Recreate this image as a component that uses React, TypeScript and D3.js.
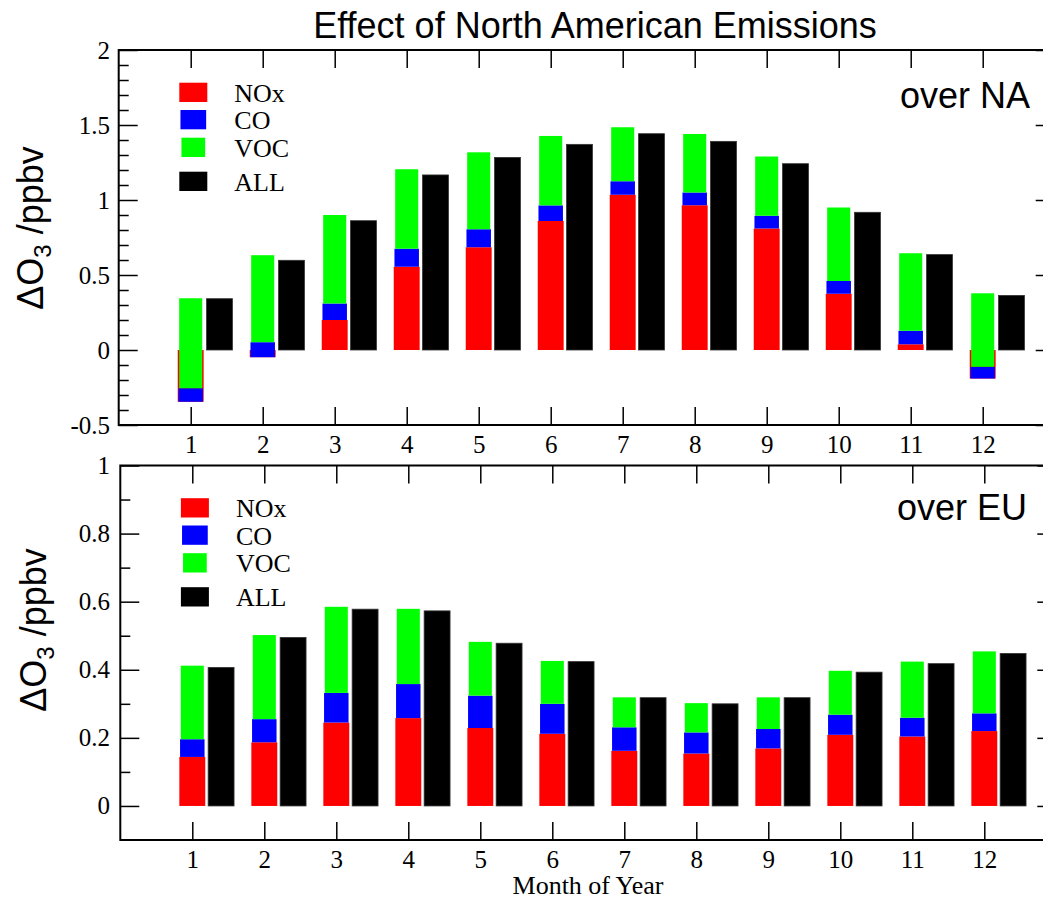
import React, { useEffect, useRef } from "react";
import * as d3 from "d3";

const months = [1, 2, 3, 4, 5, 6, 7, 8, 9, 10, 11, 12];

// over NA, ppbv
const naNOx = [-0.345, -0.048, 0.2, 0.555, 0.685, 0.86, 1.035, 0.965, 0.81, 0.375, 0.038, -0.19];
const naCO = [0.09, 0.1, 0.11, 0.12, 0.12, 0.104, 0.09, 0.085, 0.085, 0.085, 0.09, 0.078];
const naVOC = [0.6, 0.58, 0.59, 0.53, 0.513, 0.463, 0.36, 0.39, 0.395, 0.49, 0.517, 0.49];
const naALL = [0.342, 0.598, 0.862, 1.167, 1.284, 1.371, 1.442, 1.391, 1.242, 0.918, 0.636, 0.364];

// over EU, ppbv
const euNOx = [0.144, 0.187, 0.245, 0.258, 0.229, 0.212, 0.162, 0.154, 0.169, 0.209, 0.204, 0.22];
const euCO = [0.052, 0.068, 0.087, 0.1, 0.095, 0.088, 0.069, 0.062, 0.057, 0.059, 0.055, 0.052];
const euVOC = [0.216, 0.247, 0.253, 0.221, 0.158, 0.126, 0.088, 0.086, 0.093, 0.129, 0.165, 0.182];
const euALL = [0.407, 0.495, 0.578, 0.573, 0.478, 0.424, 0.318, 0.3, 0.318, 0.393, 0.418, 0.448];

const naMajor = [-0.5, 0, 0.5, 1, 1.5, 2];
const euMajor = [0, 0.2, 0.4, 0.6, 0.8, 1];

const legendLabels = ["NOx", "CO", "VOC", "ALL"];
const colors = ["#ff0000", "#0000ff", "#00ff00", "#000000"];

const SERIF = "'Liberation Serif', 'Times New Roman', serif";
const SANS = "'Liberation Sans', Arial, sans-serif";

const panels = [
  {
    region: "over NA",
    nox: naNOx, co: naCO, voc: naVOC, all: naALL,
    x0: 118.7, top: 50, bottom: 425,
    yDomain: [-0.5, 2], majors: naMajor, minorStep: [-0.4, 2],
    titleX: 43, titleY: 228, regionX: 1030, regionY: 108,
  },
  {
    region: "over EU",
    nox: euNOx, co: euCO, voc: euVOC, all: euALL,
    x0: 120.3, top: 465.5, bottom: 840,
    yDomain: [-0.1, 1], majors: euMajor, minorStep: [0.1, 1],
    titleX: 46, titleY: 630, regionX: 1027, regionY: 520,
  },
];

const App = () => {
  const ref = useRef<SVGSVGElement>(null);

  useEffect(() => {
    const svg = d3.select(ref.current);
    svg.selectAll("*").remove();

    svg
      .append("text")
      .attr("x", 595)
      .attr("y", 38)
      .attr("text-anchor", "middle")
      .style("font-family", SANS)
      .style("font-size", "36px")
      .text("Effect of North American Emissions");

    panels.forEach((p) => {
      const x = d3.scaleLinear().domain([0, 13]).range([p.x0, p.x0 + 936]);
      const y = d3.scaleLinear().domain(p.yDomain).range([p.bottom, p.top]);
      const g = svg.append("g");

      const minors = d3
        .range(Math.round(p.minorStep[0] * 10), Math.round(p.minorStep[1] * 10))
        .map((d) => d / 10)
        .filter((d) => !p.majors.some((m) => Math.abs(m - d) < 1e-6));

      // stacked segments: NOx, then CO, then VOC on top
      const segWidths = [0.36, 0.34, 0.32];
      const stacks = months.map((m, i) => {
        const a = p.nox[i];
        const b = a + p.co[i];
        const c = b + p.voc[i];
        return { m, segs: [[0, a], [a, b], [b, c]] };
      });

      [0, 1, 2].forEach((k) => {
        g.selectAll(null)
          .data(stacks)
          .enter()
          .append("rect")
          .attr("x", (d) => x(d.m - segWidths[k] / 2))
          .attr("y", (d) => y(Math.max(d.segs[k][0], d.segs[k][1])))
          .attr("width", x(segWidths[k]) - x(0))
          .attr("height", (d) => Math.abs(y(d.segs[k][0]) - y(d.segs[k][1])))
          .attr("fill", colors[k]);
      });

      g.selectAll(null)
        .data(months)
        .enter()
        .append("rect")
        .attr("x", (m) => x(m + 0.4 - 0.18))
        .attr("y", (m, i) => y(Math.max(0, p.all[i])))
        .attr("width", x(0.36) - x(0))
        .attr("height", (m, i) => Math.abs(y(0) - y(p.all[i])))
        .attr("fill", "#000")
        .attr("stroke", "#333")
        .attr("stroke-width", 0.8);

      const styleAxis = (a) => {
        a.attr("font-family", null).attr("font-size", null);
        a.select(".domain").remove();
        a.selectAll("line").attr("stroke", "#000").attr("stroke-width", 1.5);
        a.selectAll("text")
          .style("font-family", SERIF)
          .style("font-size", "25px")
          .attr("fill", "#000");
      };

      g.append("g")
        .attr("transform", `translate(0,${p.bottom})`)
        .call(d3.axisBottom(x).tickValues(months).tickSize(-18).tickPadding(10).tickFormat((d) => String(d)))
        .call(styleAxis);
      g.append("g")
        .attr("transform", `translate(0,${p.top})`)
        .call(d3.axisTop(x).tickValues(months).tickSize(-18).tickFormat(() => ""))
        .call(styleAxis);
      g.append("g")
        .attr("transform", `translate(${p.x0},0)`)
        .call(d3.axisLeft(y).tickValues(p.majors).tickSize(-19).tickPadding(p.x0 - 110).tickFormat((d) => String(d)))
        .call(styleAxis);
      g.append("g")
        .attr("transform", `translate(${p.x0},0)`)
        .call(d3.axisLeft(y).tickValues(minors).tickSize(-10).tickFormat(() => ""))
        .call(styleAxis);
      g.append("g")
        .attr("transform", `translate(${x(13)},0)`)
        .call(d3.axisRight(y).tickValues(p.majors).tickSize(-19).tickFormat(() => ""))
        .call(styleAxis);
      g.append("g")
        .attr("transform", `translate(${x(13)},0)`)
        .call(d3.axisRight(y).tickValues(minors).tickSize(-10).tickFormat(() => ""))
        .call(styleAxis);

      g.append("rect")
        .attr("x", x(0))
        .attr("y", p.top)
        .attr("width", x(13) - x(0))
        .attr("height", p.bottom - p.top)
        .attr("fill", "none")
        .attr("stroke", "#000")
        .attr("stroke-width", 2);

      // legend
      const legY = [32.7, 60, 87.7, 121.7];
      const legW = [28, 25.7, 23.7, 28];
      const leg = g.append("g").attr("transform", `translate(${p.x0},${p.top})`);
      legendLabels.forEach((lab, i) => {
        leg.append("rect")
          .attr("x", 74.6 - legW[i] / 2)
          .attr("y", legY[i])
          .attr("width", legW[i])
          .attr("height", 19.3)
          .attr("fill", colors[i]);
        leg.append("text")
          .attr("x", 115.6)
          .attr("y", legY[i] + 19)
          .style("font-family", SERIF)
          .style("font-size", "26px")
          .text(lab);
      });

      g.append("text")
        .attr("x", p.regionX)
        .attr("y", p.regionY)
        .attr("text-anchor", "end")
        .style("font-family", SANS)
        .style("font-size", "36px")
        .text(p.region);

      const yt = g.append("text")
        .attr("transform", `translate(${p.titleX},${p.titleY}) rotate(-90)`)
        .attr("text-anchor", "middle")
        .style("font-family", SANS)
        .style("font-size", "36px");
      yt.append("tspan").text("ΔO");
      yt.append("tspan").style("font-size", "24px").attr("dy", 8).text("3");
      yt.append("tspan").attr("dy", -8).text(" /ppbv");
    });

    svg
      .append("text")
      .attr("x", 588)
      .attr("y", 894)
      .attr("text-anchor", "middle")
      .style("font-family", SERIF)
      .style("font-size", "26px")
      .text("Month of Year");
  }, []);

  return (
    <div style={{ position: "absolute", left: 0, top: 0 }}>
      <svg ref={ref} width={1043} height={897} style={{ display: "block" }}></svg>
    </div>
  );
};

export default App;
